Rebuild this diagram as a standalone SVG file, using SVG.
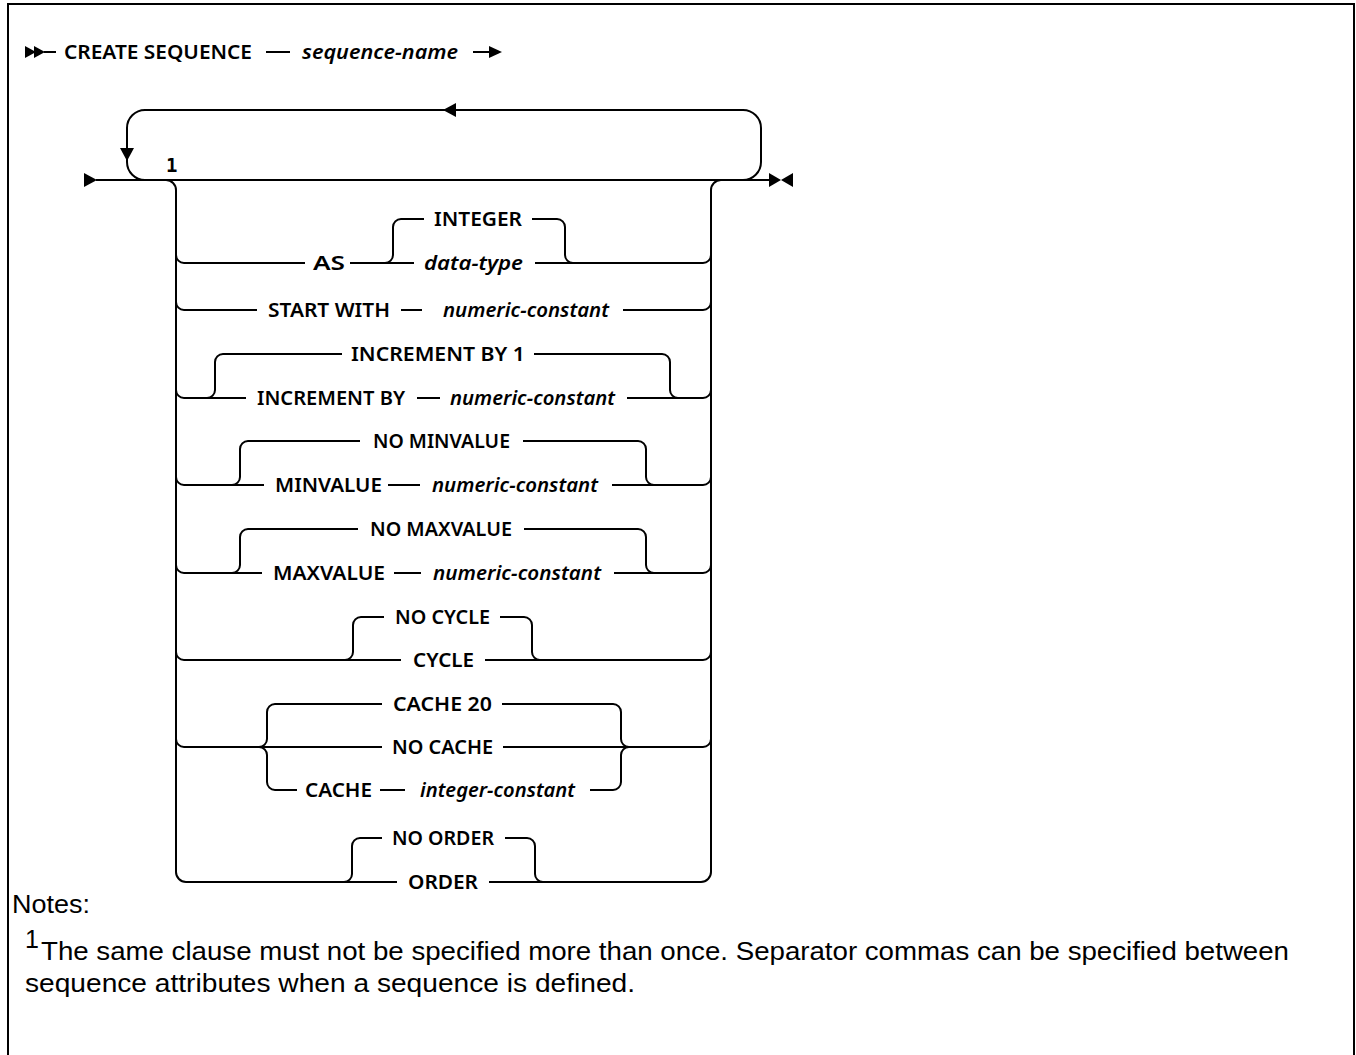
<svg xmlns="http://www.w3.org/2000/svg" width="1356" height="1055" viewBox="0 0 1356 1055">
<style>
.ln{fill:none;stroke:#000;stroke-width:2}
.ar{fill:#000;stroke:none}
.k{font-family:"Noto Sans","Liberation Sans",sans-serif;font-size:19px;font-weight:600;fill:#000}
.v{font-family:"Noto Sans","Liberation Sans",sans-serif;font-size:19px;font-weight:600;font-style:italic;fill:#000}
.n{font-family:"Liberation Sans","Noto Sans",sans-serif;font-size:25px;fill:#000}
.fn{font-family:"DejaVu Sans Mono","Liberation Mono",monospace;font-size:19px;font-weight:bold;fill:#000}
</style>
<rect width="1356" height="1055" fill="#fff"/>
<path class="ln" d="M 8 1055 L 8 4 L 1354 4 L 1354 1055" stroke-width="2.5"/>

<g id="connectors">
  <!-- title line -->
  <polygon class="ar" points="25,46 25,58 36,52"/>
  <polygon class="ar" points="34,46 34,58 45,52"/>
  <path class="ln" d="M 44 52 L 56 52 M 266 52 L 290 52 M 473 52 L 491 52"/>
  <polygon class="ar" points="489,46 489,58 502,52"/>
  <!-- main line -->
  <polygon class="ar" points="84,173 84,187 97,180"/>
  <path class="ln" d="M 96 180 L 771 180"/>
  <polygon class="ar" points="769,173 769,187 781,180"/>
  <polygon class="ar" points="793,173 793,187 781,180"/>
  <!-- repeat loop -->
  <path class="ln" d="M 743 180 A 18 18 0 0 0 761 162 L 761 128 A 18 18 0 0 0 743 110 L 145 110 A 18 18 0 0 0 127 128 L 127 162 A 18 18 0 0 0 145 180"/>
  <polygon class="ar" points="443,110 456,103 456,117"/>
  <polygon class="ar" points="120,148 134,148 127,161"/>
  <!-- rails -->
  <path class="ln" d="M 166 180 A 10 10 0 0 1 176 190 L 176 872 A 10 10 0 0 0 186 882"/>
  <path class="ln" d="M 701 882 A 10 10 0 0 0 711 872 L 711 190 A 10 10 0 0 1 721 180"/>
  <!-- AS row -->
  <path class="ln" d="M 176 255 A 8 8 0 0 0 184 263 L 305 263 M 350 263 L 414 263 M 535 263 L 703 263 A 8 8 0 0 0 711 255"/>
  <path class="ln" d="M 385 263 A 8 8 0 0 0 393 255 L 393 227 A 8 8 0 0 1 401 219 L 424 219 M 532 219 L 557 219 A 8 8 0 0 1 565 227 L 565 255 A 8 8 0 0 0 573 263"/>
  <!-- START WITH row -->
  <path class="ln" d="M 176 302 A 8 8 0 0 0 184 310 L 257 310 M 401 310 L 422 310 M 623 310 L 703 310 A 8 8 0 0 0 711 302"/>
  <!-- INCREMENT -->
  <path class="ln" d="M 176 390 A 8 8 0 0 0 184 398 L 246 398 M 417 398 L 440 398 M 627 398 L 703 398 A 8 8 0 0 0 711 390"/>
  <path class="ln" d="M 207 398 A 8 8 0 0 0 215 390 L 215 362 A 8 8 0 0 1 223 354 L 342 354 M 534 354 L 662 354 A 8 8 0 0 1 670 362 L 670 390 A 8 8 0 0 0 678 398"/>
  <!-- MINVALUE -->
  <path class="ln" d="M 176 477 A 8 8 0 0 0 184 485 L 264 485 M 388 485 L 420 485 M 612 485 L 703 485 A 8 8 0 0 0 711 477"/>
  <path class="ln" d="M 232 485 A 8 8 0 0 0 240 477 L 240 449 A 8 8 0 0 1 248 441 L 360 441 M 523 441 L 638 441 A 8 8 0 0 1 646 449 L 646 477 A 8 8 0 0 0 654 485"/>
  <!-- MAXVALUE -->
  <path class="ln" d="M 176 565 A 8 8 0 0 0 184 573 L 262 573 M 394 573 L 421 573 M 614 573 L 703 573 A 8 8 0 0 0 711 565"/>
  <path class="ln" d="M 232 573 A 8 8 0 0 0 240 565 L 240 537 A 8 8 0 0 1 248 529 L 358 529 M 524 529 L 638 529 A 8 8 0 0 1 646 537 L 646 565 A 8 8 0 0 0 654 573"/>
  <!-- CYCLE -->
  <path class="ln" d="M 176 652 A 8 8 0 0 0 184 660 L 401 660 M 485 660 L 703 660 A 8 8 0 0 0 711 652"/>
  <path class="ln" d="M 345 660 A 8 8 0 0 0 353 652 L 353 625 A 8 8 0 0 1 361 617 L 384 617 M 500 617 L 524 617 A 8 8 0 0 1 532 625 L 532 652 A 8 8 0 0 0 540 660"/>
  <!-- CACHE -->
  <path class="ln" d="M 176 739 A 8 8 0 0 0 184 747 L 382 747 M 503 747 L 703 747 A 8 8 0 0 0 711 739"/>
  <path class="ln" d="M 259 747 A 8 8 0 0 0 267 739 L 267 712 A 8 8 0 0 1 275 704 L 382 704 M 259 747 A 8 8 0 0 1 267 755 L 267 782 A 8 8 0 0 0 275 790 L 297 790"/>
  <path class="ln" d="M 502 704 L 613 704 A 8 8 0 0 1 621 712 L 621 739 A 8 8 0 0 0 629 747 M 590 790 L 613 790 A 8 8 0 0 0 621 782 L 621 755 A 8 8 0 0 1 629 747"/>
  <path class="ln" d="M 380 790 L 405 790"/>
  <!-- ORDER -->
  <path class="ln" d="M 186 882 L 397 882 M 489 882 L 701 882"/>
  <path class="ln" d="M 344 882 A 8 8 0 0 0 352 874 L 352 846 A 8 8 0 0 1 360 838 L 382 838 M 505 838 L 527 838 A 8 8 0 0 1 535 846 L 535 874 A 8 8 0 0 0 543 882"/>
</g>

<g id="title">
  <text class="k" x="64" y="59" textLength="188" lengthAdjust="spacingAndGlyphs">CREATE SEQUENCE</text>
  <text class="v" x="302" y="59" textLength="156" lengthAdjust="spacingAndGlyphs">sequence-name</text>
</g>
<g id="footnote-ref"><text class="fn" x="166" y="172">1</text></g>
<g id="as">
  <text class="k" x="313" y="270" textLength="32" lengthAdjust="spacingAndGlyphs">AS</text>
  <text class="k" x="434" y="226" textLength="88" lengthAdjust="spacingAndGlyphs">INTEGER</text>
  <text class="v" x="424" y="270" textLength="99" lengthAdjust="spacingAndGlyphs">data-type</text>
</g>
<g id="start-with">
  <text class="k" x="268" y="317" textLength="122" lengthAdjust="spacingAndGlyphs">START WITH</text>
  <text class="v" x="443" y="317" textLength="166" lengthAdjust="spacingAndGlyphs">numeric-constant</text>
</g>
<g id="increment">
  <text class="k" x="351" y="361" textLength="174" lengthAdjust="spacingAndGlyphs">INCREMENT BY 1</text>
  <text class="k" x="257" y="405" textLength="148" lengthAdjust="spacingAndGlyphs">INCREMENT BY</text>
  <text class="v" x="450" y="405" textLength="165" lengthAdjust="spacingAndGlyphs">numeric-constant</text>
</g>
<g id="minvalue">
  <text class="k" x="373" y="448" textLength="137" lengthAdjust="spacingAndGlyphs">NO MINVALUE</text>
  <text class="k" x="275" y="492" textLength="107" lengthAdjust="spacingAndGlyphs">MINVALUE</text>
  <text class="v" x="432" y="492" textLength="166" lengthAdjust="spacingAndGlyphs">numeric-constant</text>
</g>
<g id="maxvalue">
  <text class="k" x="370" y="536" textLength="142" lengthAdjust="spacingAndGlyphs">NO MAXVALUE</text>
  <text class="k" x="273" y="580" textLength="112" lengthAdjust="spacingAndGlyphs">MAXVALUE</text>
  <text class="v" x="433" y="580" textLength="168" lengthAdjust="spacingAndGlyphs">numeric-constant</text>
</g>
<g id="cycle">
  <text class="k" x="395" y="624" textLength="95" lengthAdjust="spacingAndGlyphs">NO CYCLE</text>
  <text class="k" x="413" y="667" textLength="61" lengthAdjust="spacingAndGlyphs">CYCLE</text>
</g>
<g id="cache">
  <text class="k" x="393" y="711" textLength="99" lengthAdjust="spacingAndGlyphs">CACHE 20</text>
  <text class="k" x="392" y="754" textLength="101" lengthAdjust="spacingAndGlyphs">NO CACHE</text>
  <text class="k" x="305" y="797" textLength="67" lengthAdjust="spacingAndGlyphs">CACHE</text>
  <text class="v" x="420" y="797" textLength="155" lengthAdjust="spacingAndGlyphs">integer-constant</text>
</g>
<g id="order">
  <text class="k" x="392" y="845" textLength="102" lengthAdjust="spacingAndGlyphs">NO ORDER</text>
  <text class="k" x="408" y="889" textLength="70" lengthAdjust="spacingAndGlyphs">ORDER</text>
</g>
<g id="notes">
  <text class="n" x="12" y="913" textLength="78" lengthAdjust="spacingAndGlyphs">Notes:</text>
  <text class="n" x="25" y="948" font-size="16">1</text>
  <text class="n" x="41" y="960" textLength="1248" lengthAdjust="spacingAndGlyphs">The same clause must not be specified more than once. Separator commas can be specified between</text>
  <text class="n" x="25" y="992" textLength="610" lengthAdjust="spacingAndGlyphs">sequence attributes when a sequence is defined.</text>
</g>
</svg>
